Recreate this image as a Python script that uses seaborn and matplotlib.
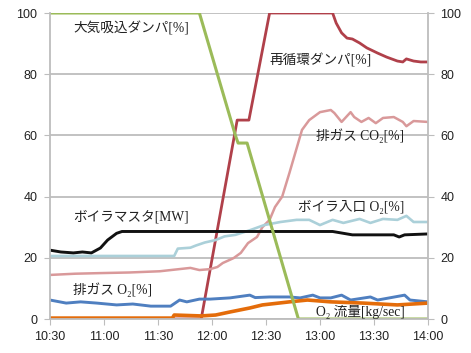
import pandas as pd
import seaborn as sns
import matplotlib.pyplot as plt

# ============ Data (minutes after 10:30) ============
air_t = [0, 83, 103, 104.5, 109.5, 138, 210]
air_v = [100, 100, 60, 57.5, 57.5, 0, 0]

recirc_t = [0, 84, 104, 110.5, 122, 157, 159, 162, 165, 168, 172, 176, 182, 187, 193, 196, 198, 202, 206, 210]
recirc_v = [0, 0, 65, 65, 100, 100, 96.7, 93.5, 91.8, 91.5, 90.2, 88.6, 86.9, 85.6, 84.3, 84, 85, 84.3, 84, 84]

co2_t = [0, 14, 28, 44, 61, 78, 83, 89, 93, 96, 102, 106, 110, 115, 118, 122, 125, 129, 133, 140,
         144, 150, 156, 158, 162, 167, 169, 173, 177, 181, 185, 191, 196, 198, 202, 210]
co2_v = [14.4, 14.8, 15, 15.2, 15.6, 16.7, 16, 16.3, 17, 18.3, 19.9, 21.6, 24.8, 26.8, 30, 32.4, 36.6, 40, 47.7, 61.8,
         65, 67.6, 68.3, 67.3, 64.4, 67.6, 66, 64.4, 65.7, 64, 65.7, 66, 64.4, 63, 64.7, 64.4]

master_t = [0, 6, 13, 18, 23, 28, 32, 37, 40, 157, 168, 191, 194, 197, 210]
master_v = [22.5, 21.9, 21.6, 21.9, 21.6, 23.2, 25.8, 28, 28.6, 28.6, 27.5, 27.5, 26.8, 27.5, 27.8]

inlet_t = [0, 69, 71, 78, 81, 86, 92, 97, 103, 111, 119, 128, 137, 144, 150, 157, 163, 172, 178, 185, 193, 198, 202, 210]
inlet_v = [20.6, 20.6, 23, 23.3, 24, 25, 25.8, 27, 27.5, 29, 30.7, 31.7, 32.4, 32.4, 30.7, 32.4, 31.4, 32.7, 31.4, 32.7, 32.4, 33.7, 31.7, 31.7]

exo2_t = [0, 9, 17, 26, 37, 46, 56, 67, 72, 76, 83, 89, 100, 111, 114, 122, 133, 139, 146, 150, 156, 162, 167, 178, 182, 197, 200, 210]
exo2_v = [6.2, 5.2, 5.6, 5.2, 4.6, 4.9, 4.2, 4.2, 6.2, 5.6, 6.5, 6.5, 6.9, 7.8, 7.0, 7.2, 7.2, 6.9, 7.8, 6.9, 6.9, 7.8, 6.2, 7.2, 6.2, 7.8, 6.2, 5.6]

flow_t = [0, 68, 69, 84, 92, 100, 111, 118, 133, 143, 156, 174, 193, 210]
flow_v = [0.3, 0.3, 1.3, 1.0, 1.3, 2.3, 3.6, 4.6, 5.6, 6.2, 5.6, 5.2, 4.6, 5.2]

tick_pos = [0, 30, 60, 90, 120, 150, 180, 210]
tick_labels = ["10:30", "11:00", "11:30", "12:00", "12:30", "13:00", "13:30", "14:00"]

# ============ Style ============
sns.set_style("white")
plt.rcParams['font.family'] = ['Liberation Sans', 'DejaVu Sans']
label_font = ['Liberation Serif', 'Noto Sans CJK JP', 'DejaVu Serif']

fig = plt.figure(figsize=(4.71, 3.53), dpi=100)
ax = fig.add_axes([50 / 471, 1 - 319 / 353, 378 / 471, 306 / 353])

series = [
    (recirc_t, recirc_v, "#B0404A", 2.0),
    (co2_t, co2_v, "#D9999A", 1.8),
    (inlet_t, inlet_v, "#ABD0D9", 1.9),
    (master_t, master_v, "#111111", 2.1),
    (exo2_t, exo2_v, "#4F7FC0", 2.1),
    (flow_t, flow_v, "#E46C0A", 2.6),
    (air_t, air_v, "#9BBB59", 2.2),
]
for t, v, c, lw in series:
    sns.lineplot(x=t, y=v, ax=ax, color=c, linewidth=lw, estimator=None, sort=False)

ax.set_xlim(0, 210)
ax.set_ylim(0, 100)
ax.set_xticks(tick_pos)
ax.set_xticklabels(tick_labels)
ax.set_yticks([0, 20, 40, 60, 80, 100])
ax.yaxis.grid(True, color="#BDBDBD", linewidth=1.3)
ax.set_axisbelow(True)
for s in ["left", "right", "bottom"]:
    ax.spines[s].set_color("#BDBDBD")
    ax.spines[s].set_linewidth(1.3)
ax.spines["top"].set_visible(False)
ax.tick_params(axis="x", bottom=True, length=4, color="#BDBDBD", labelsize=9, pad=5, colors="#222222")
ax.tick_params(axis="y", left=True, right=True, labelright=True, length=4, color="#BDBDBD",
               labelsize=9, pad=5, colors="#222222")

# ============ Labels ============
labels = [
    (13, 94.8, "大気吸込ダンパ[%]"),
    (122, 84.6, "再循環ダンパ[%]"),
    (148, 59.8, "排ガス CO₂[%]"),
    (13, 33.3, "ボイラマスタ[MW]"),
    (138, 36.6, "ボイラ入口 O₂[%]"),
    (13, 9.5, "排ガス O₂[%]"),
    (148, 2.3, "O₂ 流量[kg/sec]"),
]
for x, y, s in labels:
    ax.text(x, y, s, fontsize=9.8, family=label_font, va="center", ha="left", color="#222222")

fig.savefig("out.png", dpi=100)
